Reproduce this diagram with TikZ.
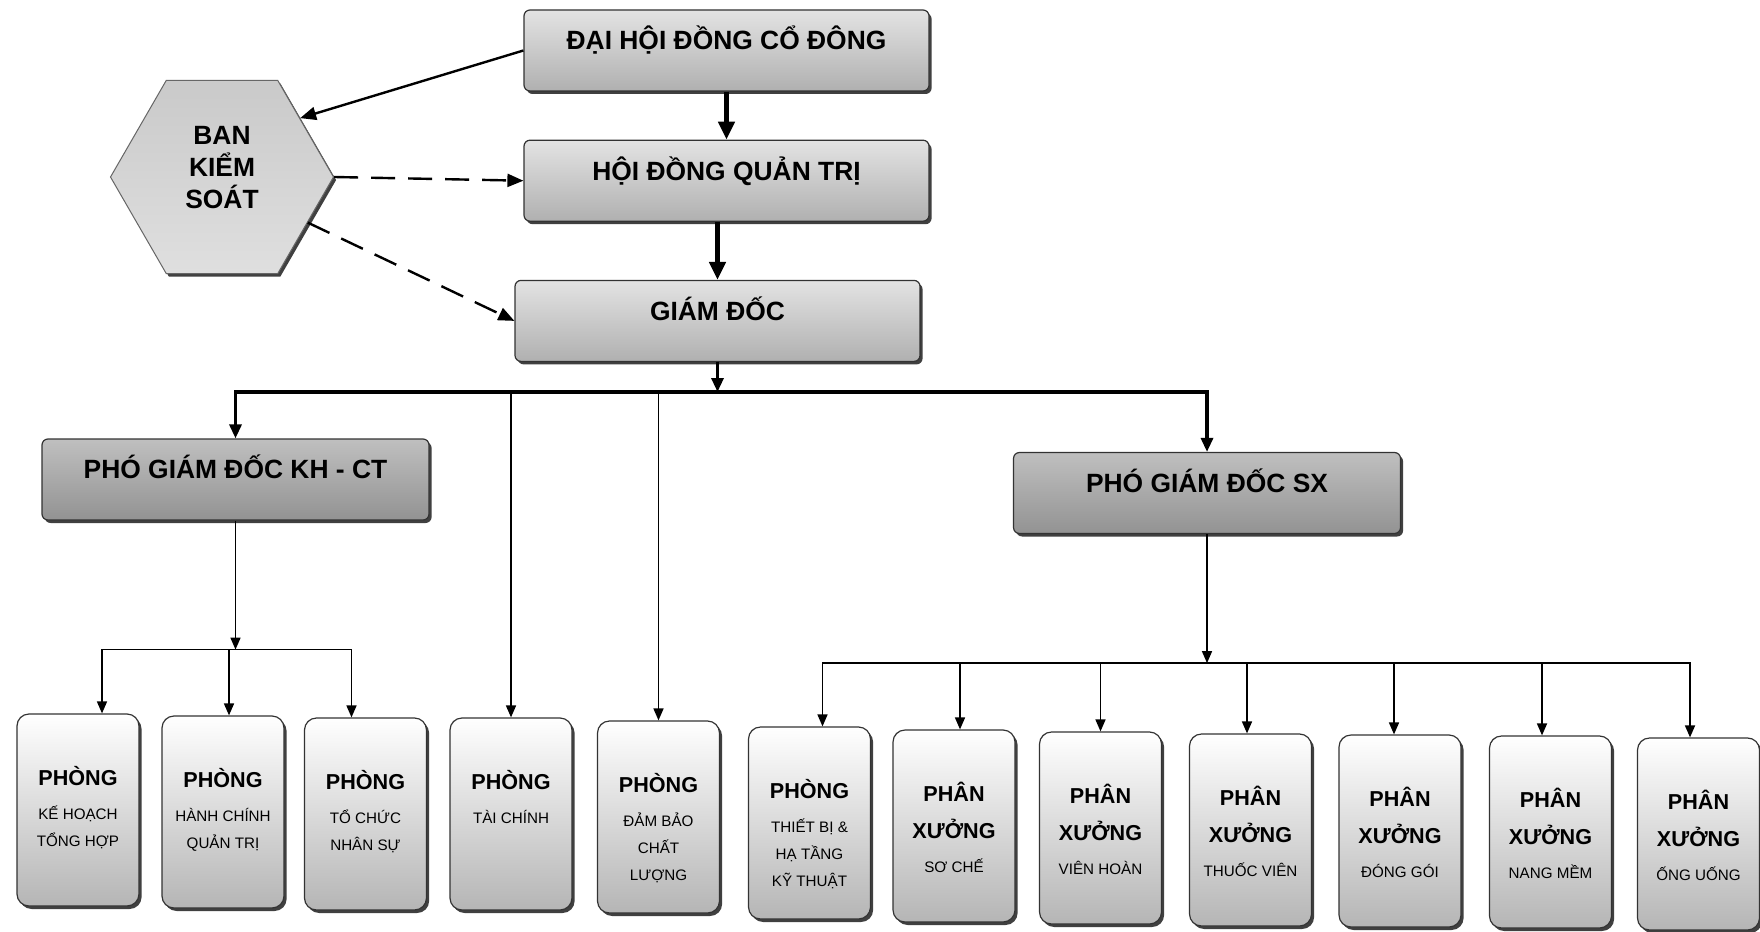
\documentclass[tikz,border=0pt]{standalone}
\usepackage{fontspec}
\setmainfont{Liberation Sans}
\usetikzlibrary{shapes.geometric, arrows.meta, positioning, calc, shadows}

% text block of the lower units: bold head, small lines below
\newcommand{\donvi}[2]{\parbox[c][96pt][t]{60pt}{\centering\vspace*{24.5pt}%
  {\bfseries\fontsize{10.8}{18.5}\selectfont\rule{0pt}{11pt}#1\par}\vspace{3.8pt}%
  {\fontsize{7.6}{13.5}\selectfont #2\par}}}

\begin{document}
\begin{tikzpicture}[
    x=0.5pt, y=-0.5pt,
    boxshadow/.style={drop shadow={shadow xshift=1.3pt, shadow yshift=-1.5pt, fill=black!75, opacity=1}},
    topbox/.style={rectangle, rounded corners=3pt, draw=black!80, line width=0.6pt, minimum width=202.5pt, minimum height=40.5pt, text height=10pt, text depth=10.6pt, top color=gray!22, bottom color=gray!62, font=\fontsize{13.2}{16}\selectfont\bfseries, boxshadow},
    pgdbox/.style={rectangle, rounded corners=3pt, draw=black!80, line width=0.6pt, minimum width=193.5pt, minimum height=40.5pt, text height=10pt, text depth=10.6pt, top color=gray!50, bottom color=gray!85, font=\fontsize{13.2}{16}\selectfont\bfseries, boxshadow},
    hexbox/.style={regular polygon, regular polygon sides=6, minimum size=111.5pt, draw=black!60, line width=0.5pt, top color=gray!42, bottom color=gray!25, align=center, font=\fontsize{13.2}{16}\selectfont\bfseries, boxshadow},
    unit/.style={rectangle, rounded corners=6pt, draw=black!80, line width=0.6pt, minimum width=61pt, minimum height=96pt, inner sep=0pt, top color=white, bottom color=gray!58, boxshadow},
    bigarrow/.style={-{Triangle[length=9pt, width=8pt]}, line width=2.6pt},
    busarrow/.style={-{Triangle[length=7pt, width=6pt]}, line width=1.6pt},
    linkarrow/.style={-{Triangle[length=8pt, width=6.5pt]}, line width=1.2pt},
    dasharrow/.style={-{Triangle[length=8pt, width=6.5pt]}, line width=1.2pt, dash pattern=on 12pt off 6.5pt},
    thinarrow/.style={-{Triangle[length=6pt, width=5pt]}, line width=0.8pt}
]
\path[fill=white] (0,0) rectangle (1760,931);
\useasboundingbox (0,0) rectangle (1760,931);

% Cap tren
\node[topbox] (dhdcd) at (726.5,50.5) {ĐẠI HỘI ĐỒNG CỔ ĐÔNG};
\node[topbox, below=24pt of dhdcd] (hdqt) {HỘI ĐỒNG QUẢN TRỊ};
\node[topbox, below=29pt of hdqt, xshift=-4.5pt] (gd) {GIÁM ĐỐC};
\node[hexbox] (bks) at (222,177) {BAN\\KIỂM\\SOÁT\\[-6pt]\mbox{}};

% Pho giam doc
\node[pgdbox] (pgd1) at (235.5,479.5) {PHÓ GIÁM ĐỐC KH - CT};
\node[pgdbox] (pgd2) at (1207,493) {PHÓ GIÁM ĐỐC SX};

% Phong ban, phan xuong
\node[unit] (p1) at (78,810) {\donvi{PHÒNG}{KẾ HOẠCH\\TỔNG HỢP}};
\node[unit] (p2) at (223,812) {\donvi{PHÒNG}{HÀNH CHÍNH\\QUẢN TRỊ}};
\node[unit] (p3) at (365.5,814) {\donvi{PHÒNG}{TỔ CHỨC\\NHÂN SỰ}};
\node[unit] (p4) at (511,814) {\donvi{PHÒNG}{TÀI CHÍNH}};
\node[unit] (p5) at (658.5,817) {\donvi{PHÒNG}{ĐẢM BẢO\\CHẤT\\LƯỢNG}};
\node[unit] (p6) at (809.5,823) {\donvi{PHÒNG}{THIẾT BỊ \&\\HẠ TẦNG\\KỸ THUẬT}};
\node[unit] (p7) at (954,826) {\donvi{PHÂN\\XƯỞNG}{SƠ CHẾ}};
\node[unit] (p8) at (1100.5,828) {\donvi{PHÂN\\XƯỞNG}{VIÊN HOÀN}};
\node[unit] (p9) at (1250.5,830) {\donvi{PHÂN\\XƯỞNG}{THUỐC VIÊN}};
\node[unit] (p10) at (1400,831) {\donvi{PHÂN\\XƯỞNG}{ĐÓNG GÓI}};
\node[unit] (p11) at (1550.5,832) {\donvi{PHÂN\\XƯỞNG}{NANG MỀM}};
\node[unit] (p12) at (1698.5,834) {\donvi{PHÂN\\XƯỞNG}{ỐNG UỐNG}};

% Duong noi
\draw[linkarrow] (dhdcd.west) -- (bks.37);
\draw[dasharrow] (bks.east) -- (hdqt.west);
\draw[dasharrow] (bks.-28) -- (gd.west);
\draw[bigarrow] (dhdcd) -- (hdqt);
\draw[bigarrow] (hdqt.south -| gd.north) -- (gd.north);

\coordinate (bus) at ([yshift=-15pt]gd.south);
\draw[busarrow] (gd.south) -- (bus);
\draw[busarrow] (bus) -| (pgd1.north);
\draw[busarrow] (bus) -| (pgd2.north);
\draw[thinarrow] (bus -| p4.north) -- (p4.north);
\draw[thinarrow] (bus -| p5.north) -- (p5.north);

\coordinate (sub1) at ([yshift=-64.5pt]pgd1.south);
\draw[thinarrow] (pgd1.south) -- (sub1);
\draw[thinarrow] (sub1) -| ([xshift=12pt]p1.north);
\draw[thinarrow] (sub1) -| ([xshift=3pt]p2.north);
\draw[thinarrow] (sub1) -| ([xshift=-7pt]p3.north);

\coordinate (sub2) at ([yshift=-64.5pt]pgd2.south);
\draw[thinarrow] (pgd2.south) -- (sub2);
\foreach \u/\dx in {p6/6.5, p7/3, p8/0, p9/-1.75, p10/-3, p11/-4.25, p12/-4.25}
  \draw[thinarrow] (sub2) -| ([xshift=\dx pt]\u.north);

\end{tikzpicture}
\end{document}
